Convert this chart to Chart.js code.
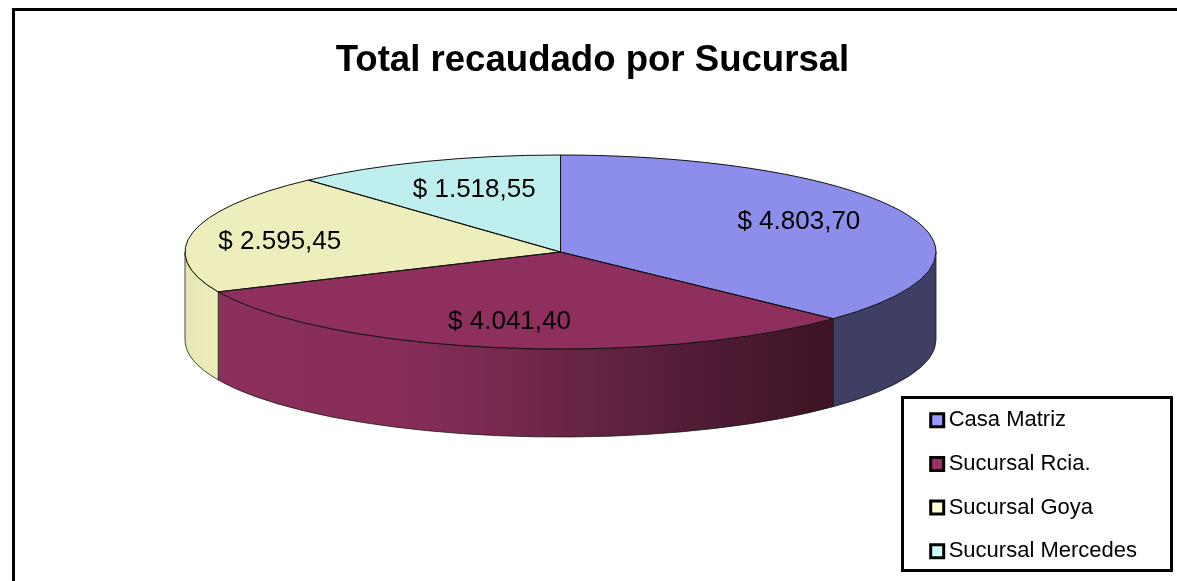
<!DOCTYPE html>
<html lang="es">
<head>
<meta charset="utf-8">
<title>Total recaudado por Sucursal</title>
<script src="https://cdn.jsdelivr.net/npm/chart.js@4"></script>
<style>
html,body{margin:0;padding:0;background:#fff;overflow:hidden}
canvas{display:block}
</style>
</head>
<body>
<canvas id="c" width="1177" height="581"></canvas>
<script>
const chartTitle = 'Total recaudado por Sucursal';
const categories = ['Casa Matriz', 'Sucursal Rcia.', 'Sucursal Goya', 'Sucursal Mercedes'];
const recaudado = [4803.70, 4041.40, 2595.45, 1518.55];
const faceColors = ['#8d8eec', '#8e2f5d', '#eeeebd', '#bfeeee'];
const legendColors = ['#9999ff', '#993366', '#ffffcc', '#ccffff'];
const wallStops = [
  [[0, '#3f3f66'], [1, '#3f3f66']],
  [[0, '#8c2f5c'], [0.28, '#872d58'], [0.43, '#7b2a50'], [0.62, '#632340'], [0.78, '#501c36'], [0.95, '#411528'], [1, '#3e1326']],
  [[0, '#e6e6b4'], [1, '#eeeebc']],
  [[0, '#bfeeee'], [1, '#bfeeee']]
];
const view = {cx: 560.5, cy: 252, rx: 375.5, ry: 97, depth: 88, labelAt: 0.72};
const labelNudge = [[-10, -3], [-6, 1], [-16, 4], [11, 3]];

function money(v) {
  const [i, d] = v.toFixed(2).split('.');
  return '$ ' + i.replace(/\B(?=(\d{3})+$)/g, '.') + ',' + d;
}

const pie3d = {
  id: 'pie3d',
  beforeDraw(chart) {
    const ctx = chart.ctx;
    ctx.save();
    ctx.fillStyle = '#fff';
    ctx.fillRect(0, 0, chart.width, chart.height);
    ctx.strokeStyle = '#000';
    ctx.lineWidth = 3;
    ctx.strokeRect(13.5, 9.5, chart.width + 20, chart.height + 20);
    ctx.strokeRect(902.5, 397.5, 269, 173);
    ctx.restore();
  },
  beforeDatasetsDraw(chart) {
    const ctx = chart.ctx;
    const arcs = chart.getDatasetMeta(0).data;
    const {cx, cy, rx, ry, depth} = view;
    arcs.forEach((arc, i) => {
      const a1 = Math.max(arc.startAngle, 0);
      const a2 = Math.min(arc.endAngle, Math.PI);
      if (a2 <= a1) return;
      const x1 = cx + rx * Math.cos(a2);
      const x2 = cx + rx * Math.cos(a1);
      const g = ctx.createLinearGradient(x1, 0, x2, 0);
      wallStops[i].forEach(s => g.addColorStop(s[0], s[1]));
      ctx.save();
      ctx.beginPath();
      ctx.ellipse(cx, cy, rx, ry, 0, a1, a2);
      ctx.ellipse(cx, cy + depth, rx, ry, 0, a2, a1, true);
      ctx.closePath();
      ctx.fillStyle = g;
      ctx.fill();
      ctx.strokeStyle = '#1a1a1a';
      ctx.lineWidth = 0.8;
      ctx.stroke();
      ctx.restore();
    });
    const a = arcs[0];
    ctx.save();
    ctx.translate(cx, cy);
    ctx.scale(rx / a.outerRadius, ry / a.outerRadius);
    ctx.translate(-a.x, -a.y);
  },
  afterDatasetsDraw(chart) {
    const ctx = chart.ctx;
    ctx.restore();
    const arcs = chart.getDatasetMeta(0).data;
    const {cx, cy, rx, ry, labelAt} = view;
    ctx.save();
    ctx.strokeStyle = '#111';
    ctx.lineWidth = 1;
    arcs.forEach(arc => {
      ctx.beginPath();
      ctx.moveTo(cx, cy);
      ctx.ellipse(cx, cy, rx, ry, 0, arc.startAngle, arc.endAngle);
      ctx.closePath();
      ctx.stroke();
    });
    ctx.fillStyle = '#000';
    ctx.font = '26px "Liberation Sans"';
    ctx.textAlign = 'center';
    ctx.textBaseline = 'middle';
    arcs.forEach((arc, i) => {
      const m = (arc.startAngle + arc.endAngle) / 2;
      ctx.fillText(money(recaudado[i]),
        cx + rx * labelAt * Math.cos(m) + labelNudge[i][0],
        cy + ry * labelAt * Math.sin(m) + labelNudge[i][1]);
    });
    ctx.restore();
  }
};

new Chart(document.getElementById('c'), {
  type: 'pie',
  data: {
    labels: categories,
    datasets: [{
      data: recaudado,
      backgroundColor: faceColors,
      borderWidth: 0,
      clip: false
    }]
  },
  options: {
    responsive: false,
    animation: false,
    events: [],
    layout: {padding: {left: 38, right: 30, top: 0, bottom: -3}},
    plugins: {
      tooltip: {enabled: false},
      title: {
        display: true,
        text: chartTitle,
        color: '#000',
        font: {family: '"Liberation Sans"', size: 36.6, weight: 'bold'},
        padding: {top: 39, bottom: 10}
      },
      legend: {
        position: 'right',
        align: 'end',
        labels: {
          color: '#000',
          font: {family: '"Liberation Sans"', size: 22},
          usePointStyle: true,
          boxWidth: 1,
          boxHeight: 13,
          padding: 21.7,
          generateLabels: () => categories.map((text, index) => ({
            text, index,
            fillStyle: legendColors[index],
            strokeStyle: '#000',
            lineWidth: 3,
            pointStyle: 'rect',
            hidden: false
          }))
        }
      }
    }
  },
  plugins: [pie3d]
});
</script>
</body>
</html>
